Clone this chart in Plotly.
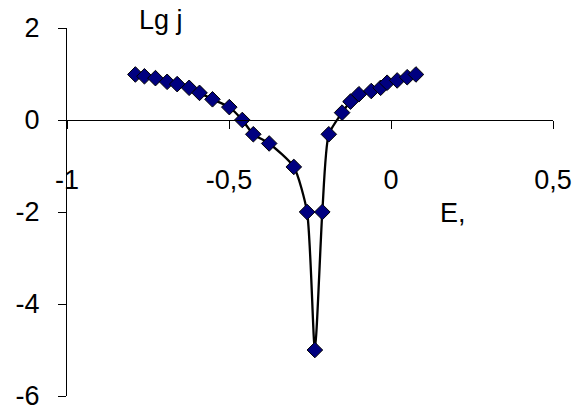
import plotly.graph_objects as go

E = [-0.789, -0.761, -0.727, -0.691, -0.660, -0.623, -0.591, -0.551, -0.499, -0.459,
     -0.425, -0.376, -0.300, -0.259, -0.235, -0.212, -0.192, -0.151, -0.125, -0.099,
     -0.061, -0.032, -0.012, 0.019, 0.050, 0.077]
lgj = [0.99, 0.95, 0.91, 0.83, 0.78, 0.70, 0.59, 0.45, 0.28, 0.0,
       -0.31, -0.51, -1.02, -2.0, -5.0, -2.0, -0.31, 0.16, 0.40, 0.56,
       0.63, 0.70, 0.81, 0.86, 0.93, 0.99]

x_ticks = [-1, -0.5, 0, 0.5]
x_tick_text = ["-1", "-0,5", "0", "0,5"]
y_ticks = [-6, -4, -2, 0, 2]
y_tick_text = ["-6", "-4", "-2", "0", "2"]

FONT = "Liberation Sans, Arial, sans-serif"
FS = 27

fig = go.Figure()
fig.add_trace(go.Scatter(
    x=E, y=lgj, mode="lines+markers",
    line=dict(color="black", width=2.3, shape="spline", smoothing=0.6),
    marker=dict(symbol="diamond", size=12, color="#000080",
                line=dict(color="black", width=1)),
    showlegend=False, cliponaxis=False,
))

fig.add_annotation(x=0.145, y=1.022, xref="paper", yref="paper", text="Lg j",
                   showarrow=False, xanchor="left", yanchor="middle",
                   font=dict(family=FONT, size=FS, color="black"))
fig.add_annotation(x=0.145, y=-2.02, xref="x", yref="y", text="E,",
                   showarrow=False, xanchor="left", yanchor="middle",
                   font=dict(family=FONT, size=FS, color="black"))

fig.update_layout(
    width=587, height=410,
    margin=dict(l=67, r=34, t=28, b=14),
    paper_bgcolor="white", plot_bgcolor="white",
    font=dict(family=FONT, size=FS, color="black"),
    xaxis=dict(range=[-1, 0.5], tickvals=x_ticks, ticktext=x_tick_text,
               showgrid=False, zeroline=False, showline=True, linecolor="black",
               linewidth=1, ticks="outside", ticklen=8, tickcolor="black",
               anchor="free", position=0.75, ticklabelstandoff=28,
               automargin=False, ticklabeloverflow="allow",
               tickfont=dict(family=FONT, size=FS, color="black")),
    yaxis=dict(range=[-6, 2], tickvals=y_ticks, ticktext=y_tick_text,
               showgrid=False, zeroline=False, showline=True, linecolor="black",
               linewidth=1, ticks="outside", ticklen=8, tickcolor="black",
               ticklabelstandoff=13, automargin=False, ticklabeloverflow="allow",
               tickfont=dict(family=FONT, size=FS, color="black")),
)

fig.write_html("out.html", config={"displayModeBar": False},
               post_script="document.body.style.margin='0';document.body.style.overflow='hidden';")
